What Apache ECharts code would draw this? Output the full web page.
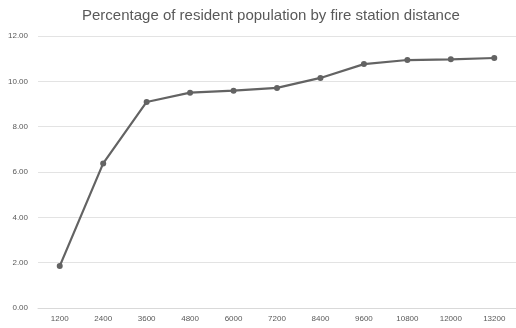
<!DOCTYPE html>
<html>
<head>
<meta charset="utf-8">
<script src="https://cdn.jsdelivr.net/npm/echarts@6/dist/echarts.min.js"></script>
<style>
    html, body { margin: 0; padding: 0; background: #fff; }
    #chart { width: 516px; height: 328px; }
</style>
</head>
<body>
<div id="chart"></div>
<script>
    var distances = ['1200', '2400', '3600', '4800', '6000', '7200', '8400', '9600', '10800', '12000', '13200'];
    var percentages = [1.85, 6.38, 9.09, 9.50, 9.59, 9.71, 10.15, 10.76, 10.94, 10.97, 11.03];

    var chart = echarts.init(document.getElementById('chart'));
    var textColor = '#595959';

    chart.setOption({
        animation: false,
        title: {
            text: 'Percentage of resident population by fire station distance',
            left: 77,
            top: 3,
            textStyle: {
                fontFamily: 'Liberation Sans',
                fontSize: 15,
                fontWeight: 'normal',
                color: textColor
            }
        },
        grid: {
            left: 38,
            right: 0,
            top: 36,
            bottom: 20
        },
        xAxis: {
            type: 'category',
            data: distances,
            boundaryGap: true,
            axisLine: { lineStyle: { color: '#d9d9d9' } },
            axisTick: { show: false },
            axisLabel: {
                color: textColor,
                fontFamily: 'Liberation Sans',
                fontSize: 8,
                margin: 7
            }
        },
        yAxis: {
            type: 'value',
            min: 0,
            max: 12,
            interval: 2,
            axisLine: { show: false },
            axisTick: { show: false },
            splitLine: { lineStyle: { color: '#e3e3e3' } },
            axisLabel: {
                color: textColor,
                fontFamily: 'Liberation Sans',
                fontSize: 8,
                margin: 10,
                formatter: function (v) { return v.toFixed(2); }
            }
        },
        series: [{
            type: 'line',
            data: percentages,
            symbol: 'circle',
            symbolSize: 6,
            lineStyle: { color: '#636363', width: 2.2 },
            itemStyle: { color: '#636363' }
        }]
    });
</script>
</body>
</html>
